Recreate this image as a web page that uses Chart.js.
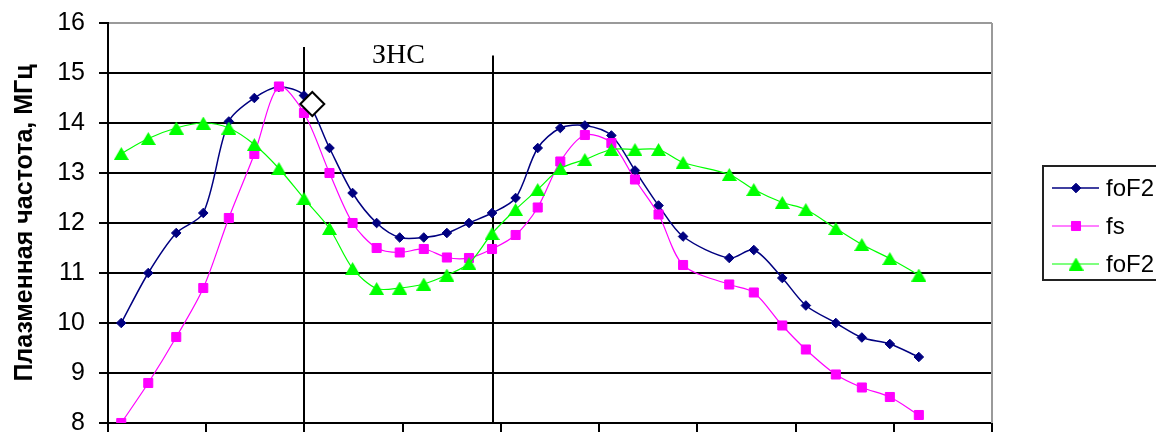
<!DOCTYPE html>
<html><head><meta charset="utf-8">
<script src="https://cdn.jsdelivr.net/npm/chart.js@4.4.1/dist/chart.umd.min.js"></script>
<style>html,body{margin:0;padding:0;background:#fff;overflow:hidden}</style>
</head><body>
<canvas id="c" width="1156" height="432"></canvas>
<script>
// ---- data ----
const times = [0.27,0.82,1.39,1.94,2.46,2.98,3.48,3.99,4.51,4.98,5.47,5.94,6.43,6.90,7.35,7.82,8.30,8.75,9.21,9.71,10.25,10.73,11.21,11.71,12.65,13.15,13.73,14.21,14.82,15.35,15.92,16.51];
const foF2  = [10.0,11.0,11.8,12.2,14.03,14.5,14.72,14.55,13.5,12.6,12.0,11.71,11.71,11.8,12.0,12.2,12.5,13.5,13.9,13.95,13.75,13.05,12.35,11.73,11.3,11.46,10.9,10.35,10.0,9.71,9.58,9.32];
const fs    = [8.0,8.8,9.72,10.7,12.1,13.38,14.73,14.2,13.0,12.0,11.5,11.41,11.48,11.31,11.3,11.48,11.76,12.31,13.23,13.76,13.6,12.87,12.17,11.16,10.77,10.61,9.95,9.47,8.97,8.71,8.52,8.16];
const foF2b = [13.39,13.69,13.9,14.0,13.9,13.57,13.09,12.49,11.89,11.09,10.69,10.7,10.78,10.96,11.19,11.79,12.27,12.67,13.09,13.27,13.47,13.47,13.47,13.21,12.97,12.67,12.41,12.27,11.89,11.57,11.29,10.96];
const yTicks = [8,9,10,11,12,13,14,15,16];
const xTicks = [0,2,4,6,8,10,12,14,16,18];
const seriesLabels = ['foF2','fs','foF2'];
const yTitle = 'Плазменная частота, МГц';
const znsLabel = 'ЗНС';
const znsLineX = [4.0, 7.83];
const znsLineTop = [15.52, 15.35];
const markX = [4.16];
const markY = [14.38];

function triangleImage(w, h, color) {
  const c = document.createElement('canvas');
  c.width = w; c.height = h;
  const g = c.getContext('2d');
  g.fillStyle = color;
  g.beginPath();
  g.moveTo(w / 2, 0);
  g.lineTo(w, h);
  g.lineTo(0, h);
  g.closePath();
  g.fill();
  return c;
}
const triImg = triangleImage(15, 13, '#00FF00');

const toXY = ys => ys.map((y, i) => ({x: times[i], y: y}));

const FONT = "'Liberation Sans', Arial, sans-serif";

const decor = {
  id: 'decor',
  beforeDatasetsDraw(chart) {
    const {ctx, chartArea: a, scales: {x, y}} = chart;
    ctx.save();
    ctx.strokeStyle = '#9a9a9a';
    ctx.lineWidth = 2;
    ctx.beginPath();
    ctx.moveTo(a.right, a.top); ctx.lineTo(a.right, a.bottom);
    ctx.stroke();
    ctx.strokeStyle = '#000';
    ctx.lineWidth = 2;
    znsLineX.forEach((v, i) => {
      const px = Math.round(x.getPixelForValue(v));
      ctx.beginPath();
      ctx.moveTo(px, y.getPixelForValue(znsLineTop[i]));
      ctx.lineTo(px, a.bottom);
      ctx.stroke();
    });
    const cx = (x.getPixelForValue(znsLineX[0]) + x.getPixelForValue(znsLineX[1])) / 2;
    ctx.fillStyle = '#000';
    ctx.font = "28px 'Liberation Serif', 'Times New Roman', serif";
    ctx.textAlign = 'center';
    ctx.textBaseline = 'alphabetic';
    ctx.fillText(znsLabel, cx, 63);
    ctx.restore();
  },
  afterDraw(chart) {
    const ctx = chart.ctx;
    ctx.save();
    ctx.fillStyle = '#fff';
    ctx.strokeStyle = '#222';
    ctx.lineWidth = 2;
    ctx.fillRect(1043, 166, 140, 114);
    ctx.strokeRect(1043, 166, 140, 114);
    const rows = [188, 226, 264];
    for (let i = 0; i < 3; i++) {
      const ds = chart.data.datasets[i];
      const yy = rows[i];
      ctx.strokeStyle = ds.borderColor;
      ctx.lineWidth = ds.borderWidth;
      ctx.beginPath();
      ctx.moveTo(1052, yy); ctx.lineTo(1099, yy);
      ctx.stroke();
      ctx.fillStyle = ds.pointBackgroundColor;
      ctx.strokeStyle = ds.pointBorderColor;
      ctx.lineWidth = 1;
      Chart.helpers.drawPoint(ctx, {pointStyle: ds.pointStyle, radius: ds.pointRadius, rotation: 0, borderWidth: 1}, 1076, yy);
      ctx.fillStyle = '#000';
      ctx.font = '24px ' + FONT;
      ctx.textAlign = 'left';
      ctx.textBaseline = 'middle';
      ctx.fillText(ds.label, 1106, yy + 1);
    }
    ctx.restore();
  }
};

new Chart(document.getElementById('c'), {
  type: 'scatter',
  data: {
    datasets: [
      {label: seriesLabels[0], data: toXY(foF2), showLine: true, order: 3,
       borderColor: '#000080', borderWidth: 1.5, tension: 0.3,
       pointStyle: 'rectRot', pointRadius: 4.8, pointBackgroundColor: '#000080', pointBorderColor: '#000080', pointBorderWidth: 1},
      {label: seriesLabels[1], data: toXY(fs), showLine: true, order: 2,
       borderColor: '#FF00FF', borderWidth: 1.2, tension: 0.3,
       pointStyle: 'rect', pointRadius: 6.4, pointBackgroundColor: '#FF00FF', pointBorderColor: '#FF00FF', pointBorderWidth: 1},
      {label: seriesLabels[2], data: toXY(foF2b), showLine: true, order: 1,
       borderColor: '#00FF00', borderWidth: 1.2, tension: 0.3,
       pointStyle: triImg, pointRadius: 7, pointBackgroundColor: '#00FF00', pointBorderColor: '#00FF00'},
      {label: 'mark', data: markX.map((v, i) => ({x: v, y: markY[i]})), showLine: false, order: 0,
       pointStyle: 'rectRot', pointRadius: 12, pointBackgroundColor: '#fff', pointBorderColor: '#000', pointBorderWidth: 2}
    ]
  },
  options: {
    responsive: false,
    animation: false,
    events: [],
    layout: {autoPadding: false, padding: {top: 23, right: 164, left: 0, bottom: 0}},
    plugins: {legend: {display: false}, tooltip: {enabled: false}},
    scales: {
      x: {
        type: 'linear', min: 0, max: 18,
        afterBuildTicks: s => { s.ticks = xTicks.map(v => ({value: v})); },
        afterFit: s => { s.height = 9; s.paddingLeft = 0; s.paddingRight = 0; },
        ticks: {display: false},
        grid: {drawOnChartArea: false, drawTicks: true, tickLength: 10, color: '#000', lineWidth: 2},
        border: {display: true, color: '#000', width: 2}
      },
      y: {
        type: 'linear', min: 8, max: 16,
        afterBuildTicks: s => { s.ticks = yTicks.map(v => ({value: v})); },
        afterFit: s => { s.width = 108; s.paddingTop = 0; s.paddingBottom = 0; },
        ticks: {color: '#000', padding: 14, font: {family: FONT, size: 25}},
        grid: {color: c => (c.tick && c.tick.value === 16) ? '#9a9a9a' : '#000', lineWidth: 2, tickLength: 9, tickColor: '#000'},
        border: {display: true, color: '#000', width: 2},
        title: {display: true, text: yTitle, color: '#000', font: {family: FONT, size: 25, weight: 'bold'}, padding: {top: 10, bottom: 0}}
      }
    }
  },
  plugins: [decor]
});
</script>
</body></html>
